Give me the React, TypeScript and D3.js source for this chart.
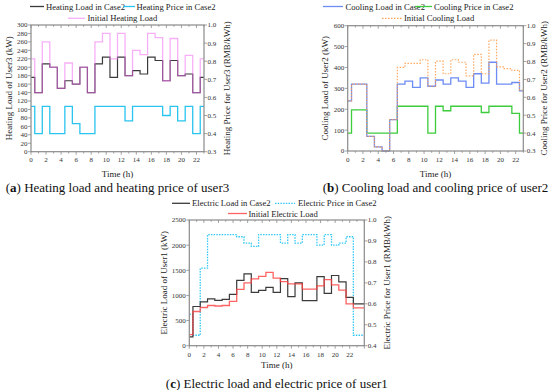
import React from 'react';
import * as d3 from 'd3';

// ---------- DATA ----------
const hours24 = [0,1,2,3,4,5,6,7,8,9,10,11,12,13,14,15,16,17,18,19,20,21,22,23];

const heatCase2 = [176,140,208,200,150,168,160,200,140,208,224,176,224,180,192,184,224,216,168,216,180,184,140,176];
const heatInit = [220,140,260,200,150,210,160,200,140,260,280,220,280,180,240,230,280,270,168,268,180,228,140,220];
const heatPrice = [0.55,0.40,0.55,0.40,0.40,0.55,0.455,0.40,0.40,0.55,0.55,0.55,0.55,0.47,0.55,0.55,0.55,0.55,0.50,0.55,0.47,0.55,0.40,0.55];

const coolCase2 = [240,320,320,70,20,0,150,320,335,305,350,310,340,320,350,335,305,370,325,425,320,320,328,288];
const coolInit = [240,320,320,70,20,0,150,400,420,420,437,310,430,370,437,425,360,463,370,531,403,394,386,291];
const coolPrice = [0.40,0.53,0.53,0.40,0.40,0.40,0.40,0.55,0.55,0.55,0.55,0.40,0.55,0.525,0.55,0.55,0.55,0.55,0.515,0.55,0.55,0.55,0.51,0.40];

const elecCase2 = [175,780,870,930,900,920,1020,1300,1430,1060,1100,1160,1062,1333,975,1250,895,895,1375,1042,1396,1271,963,833];
const elecInit = [220,680,760,800,790,800,880,1120,1250,1330,1380,1458,1342,1275,1229,1229,1125,1125,1188,1313,1208,1104,833,754];
const elecPrice = [0.55,0.45,0.77,0.93,0.93,0.93,0.93,0.92,0.89,0.874,0.93,0.93,0.93,0.89,0.93,0.89,0.93,0.93,0.88,0.93,0.88,0.89,0.92,0.45];

const xTickLabels = [0,2,4,6,8,10,12,14,16,18,20,22];
const heatLoadTicks = [0,20,40,60,80,100,120,140,160,180,200,220,240,260,280,300];
const priceTicksA = [0.3,0.4,0.5,0.6,0.7,0.8,0.9,1.0];
const coolLoadTicks = [0,100,200,300,400,500,600];
const elecLoadTicks = [0,500,1000,1500,2000,2500];
const priceTicksC = [0.4,0.5,0.6,0.7,0.8,0.9,1.0];

const FONT = '"Liberation Serif", "Times New Roman", serif';
const AXIS = '#8a8a8a';

type Series = { values: number[]; right: boolean; color: string; width: number; dash?: string; opacity?: number };
type LegendItem = { label: string; color: string; dash?: string; x1: number; x2: number; tx: number; y: number; opacity?: number };

type PanelProps = {
  left: number; right: number; top: number; bottom: number;
  xMax: number;
  leftDomain: [number, number]; leftTicks: number[];
  rightDomain: [number, number]; rightTicks: number[];
  series: Series[];
  leftTitle: string; rightTitle: string;
  leftTitleX: number; rightTitleX: number;
  xTitleY: number; xTickY: number;
  legend: LegendItem[];
  caption: string; captionLetter: string; captionY: number;
};

function Panel(p: PanelProps) {
  const x = d3.scaleLinear().domain([0, p.xMax]).range([p.left, p.right]);
  const yl = d3.scaleLinear().domain(p.leftDomain).range([p.bottom, p.top]);
  const yr = d3.scaleLinear().domain(p.rightDomain).range([p.bottom, p.top]);
  const cx = (p.left + p.right) / 2;
  const cy = (p.top + p.bottom) / 2;
  const allHours = d3.range(0, Math.floor(p.xMax) + 1);
  const line = (s: Series) => {
    const y = s.right ? yr : yl;
    const pts: [number, number][] = hours24.map((h, i) => [h, s.values[i]]);
    if (p.xMax > hours24[hours24.length - 1]) pts.push([p.xMax, s.values[s.values.length - 1]]);
    return d3.line<[number, number]>().x(d => x(d[0])).y(d => y(d[1])).curve(d3.curveStep)(pts) || '';
  };
  const fmt = (v: number) => v.toFixed(1);
  return (
    <g>
      {p.series.map((s, i) => (
        <path key={i} d={line(s)} fill="none" stroke={s.color} strokeWidth={s.width}
          strokeDasharray={s.dash} strokeOpacity={s.opacity ?? 1} />
      ))}
      <rect x={p.left} y={p.top} width={p.right - p.left} height={p.bottom - p.top} fill="none" stroke={AXIS} strokeWidth={1.2} />
      {allHours.map(h => (
        <g key={'xt' + h}>
          <line x1={x(h)} x2={x(h)} y1={p.bottom} y2={p.bottom + (h % 2 === 0 ? 3 : 1.8)} stroke={AXIS} strokeWidth={0.8} />
          <line x1={x(h)} x2={x(h)} y1={p.top} y2={p.top + (h % 2 === 0 ? 3 : 1.8)} stroke={AXIS} strokeWidth={0.8} />
        </g>
      ))}
      {xTickLabels.map(t => (
        <text key={'xl' + t} x={x(t)} y={p.xTickY} fontSize={7} textAnchor="middle" fill="#333">{t}</text>
      ))}
      {p.leftTicks.map(t => (
        <g key={'lt' + t}>
          <line x1={p.left - 3} x2={p.left} y1={yl(t)} y2={yl(t)} stroke={AXIS} strokeWidth={0.8} />
          <text x={p.left - 3.5} y={yl(t) + 2.4} fontSize={7} textAnchor="end" fill="#333">{t}</text>
        </g>
      ))}
      {p.rightTicks.map(t => (
        <g key={'rt' + t}>
          <line x1={p.right} x2={p.right + 3} y1={yr(t)} y2={yr(t)} stroke={AXIS} strokeWidth={0.8} />
          <text x={p.right + 3.5} y={yr(t) + 2.4} fontSize={7} textAnchor="start" fill="#333">{fmt(t)}</text>
        </g>
      ))}
      <text transform={`translate(${p.leftTitleX},${cy}) rotate(-90)`} fontSize={9} textAnchor="middle" dominantBaseline="central" fill="#222">{p.leftTitle}</text>
      <text transform={`translate(${p.rightTitleX},${cy}) rotate(-90)`} fontSize={9} textAnchor="middle" dominantBaseline="central" fill="#222">{p.rightTitle}</text>
      <text x={cx} y={p.xTitleY} fontSize={9} textAnchor="middle" fill="#222">Time (h)</text>
      {p.legend.map((l, i) => (
        <g key={'lg' + i}>
          <line x1={l.x1} x2={l.x2} y1={l.y} y2={l.y} stroke={l.color} strokeWidth={1.3} strokeDasharray={l.dash} strokeOpacity={l.opacity ?? 1} />
          <text x={l.tx} y={l.y + 3} fontSize={8.6} fill="#222">{l.label}</text>
        </g>
      ))}
      <text x={cx} y={p.captionY} fontSize={13} textAnchor="middle" fill="#111">
        (<tspan fontWeight="bold">{p.captionLetter}</tspan>){p.caption}
      </text>
    </g>
  );
}

export default function App() {
  return (
    <svg width={550} height={390} style={{ position: 'absolute', left: 0, top: 0, background: '#fff', fontFamily: FONT }}>
      <Panel left={31} right={204} top={25} bottom={151.7} xMax={23}
        leftDomain={[0, 300]} leftTicks={heatLoadTicks} rightDomain={[0.3, 1.0]} rightTicks={priceTicksA}
        series={[
          { values: heatPrice, right: true, color: '#29c4ef', width: 1.3 },
          { values: heatCase2, right: false, color: '#3a3a3a', width: 1.2 },
          { values: heatInit, right: false, color: '#f070f0', width: 1.3, opacity: 0.55 },
        ]}
        leftTitle="Heating Load of User3 (kW)" rightTitle="Heating Price for User3 (RMB/kWh)"
        leftTitleX={9} rightTitleX={227} xTitleY={176.5} xTickY={162}
        legend={[
          { label: 'Heating Load in Case2', color: '#3a3a3a', x1: 30, x2: 44, tx: 46, y: 6.5 },
          { label: 'Heating Price in Case2', color: '#29c4ef', x1: 123, x2: 135, tx: 136.5, y: 6.5 },
          { label: 'Initial Heating Load', color: '#f070f0', x1: 68, x2: 85, tx: 87.5, y: 18.3, opacity: 0.55 },
        ]}
        caption=" Heating load and heating price of user3" captionLetter="a" captionY={192} />
      <Panel left={347.7} right={523.3} top={25.7} bottom={151} xMax={23}
        leftDomain={[0, 600]} leftTicks={coolLoadTicks} rightDomain={[0.3, 1.0]} rightTicks={priceTicksA}
        series={[
          { values: coolPrice, right: true, color: '#3ccc3c', width: 1.3 },
          { values: coolCase2, right: false, color: '#6d8cf5', width: 1.3 },
          { values: coolInit, right: false, color: '#ffa050', width: 1.2, dash: '1.5,1.5', opacity: 0.9 },
        ]}
        leftTitle="Cooling Load of User2 (kW)" rightTitle="Cooling Price for User2 (RMB/kWh)"
        leftTitleX={325} rightTitleX={544} xTitleY={176.5} xTickY={162}
        legend={[
          { label: 'Cooling Load in Case2', color: '#6d8cf5', x1: 323, x2: 343, tx: 345.5, y: 6.5 },
          { label: 'Cooling Price in Case2', color: '#3ccc3c', x1: 415, x2: 432, tx: 434, y: 6.5 },
          { label: 'Initial Cooling Load', color: '#ffa050', dash: '1.5,1.5', x1: 382, x2: 402, tx: 404, y: 18.3 },
        ]}
        caption=" Cooling load and cooling price of user2" captionLetter="b" captionY={192} />
      <Panel left={189.3} right={364.3} top={220} bottom={345.7} xMax={24}
        leftDomain={[0, 2500]} leftTicks={elecLoadTicks} rightDomain={[0.4, 1.0]} rightTicks={priceTicksC}
        series={[
          { values: elecPrice, right: true, color: '#33c8f5', width: 1.3, dash: '1.5,1.2' },
          { values: elecCase2, right: false, color: '#3a3a3a', width: 1.2 },
          { values: elecInit, right: false, color: '#ff3c3c', width: 1.3, opacity: 0.8 },
        ]}
        leftTitle="Electric Load of User1 (kW)" rightTitle="Electric Price for User1 (RMB/kWh)"
        leftTitleX={163.5} rightTitleX={387} xTitleY={368} xTickY={356.5}
        legend={[
          { label: 'Electric Load in Case2', color: '#3a3a3a', x1: 172, x2: 190, tx: 192, y: 203.3 },
          { label: 'Electric Price in Case2', color: '#33c8f5', dash: '1.5,1.2', x1: 275, x2: 295, tx: 298, y: 203.3 },
          { label: 'Initial Electric Load', color: '#ff3c3c', x1: 228, x2: 247, tx: 248.5, y: 213.5, opacity: 0.8 },
        ]}
        caption=" Electric load and electric price of user1" captionLetter="c" captionY={388} />
    </svg>
  );
}
